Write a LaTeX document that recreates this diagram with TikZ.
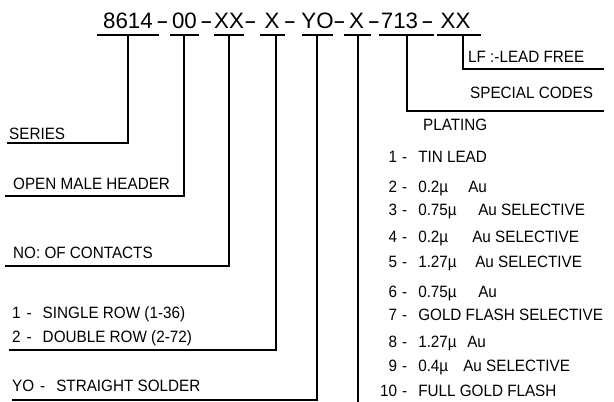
\documentclass[tikz,border=0pt]{standalone}
\usepackage{fontspec}
\usepackage{graphicx}
\setmainfont{Liberation Sans}
\newfontfamily\lblfont[FakeStretch=0.93]{Liberation Sans}
\begin{document}
\begin{tikzpicture}[x=1pt,y=-1pt,
  ln/.style={line width=1.3pt,line cap=rect},
  ttl/.style={inner sep=0pt,anchor=base,font=\fontsize{22.3}{24}\selectfont},
  lbl/.style={inner sep=0pt,anchor=base west,font=\lblfont\fontsize{16.4}{18}\selectfont},
]
\useasboundingbox (0,0) rectangle (614,402);
\newcommand{\dsh}{\hspace{6pt}-\hspace{11pt}}
\newcommand{\tdash}{\scalebox{1.7}[1]{-}}
\newcommand{\pl}[3]{\makebox[17pt][r]{#1}\hspace{5pt}-\hspace{11pt}\makebox[#2][l]{#3}}
% title segments
\node[ttl] (s1) at (128,28) {8614};
\node[ttl] (h1) at (162.5,28) {\tdash};
\node[ttl] (s2) at (184.5,28) {00};
\node[ttl] (h2) at (206.5,28) {\tdash};
\node[ttl] (s3) at (229,28) {XX};
\node[ttl] (h3) at (250.5,28) {\tdash};
\node[ttl] (s4) at (272,28) {X};
\node[ttl] (h4) at (290,28) {\tdash};
\node[ttl] (s5) at (317.5,28) {YO};
\node[ttl] (h5) at (339.5,28) {\tdash};
\node[ttl] (s6) at (356.5,28) {X};
\node[ttl] (h6) at (374,28) {\tdash};
\node[ttl] (s7) at (399.5,28) {713};
\node[ttl] (h7) at (427.5,28) {\tdash};
\node[ttl] (s8) at (455.5,28) {XX};
% underlines
\draw[ln] (98,35) -- (158,35);
\draw[ln] (171,35) -- (198,35);
\draw[ln] (215,35) -- (243,35);
\draw[ln] (261,35) -- (284,35);
\draw[ln] (303,35) -- (332,35);
\draw[ln] (345,35) -- (370,35);
\draw[ln] (380,35) -- (433,35);
\draw[ln] (438,35) -- (480,35);
% branch points
\coordinate (b1) at (128,35);
\coordinate (b2) at (184,35);
\coordinate (b3) at (229,35);
\coordinate (b4) at (276,35);
\coordinate (b5) at (317,35);
\coordinate (b6) at (358,35);
\coordinate (b7) at (407,35);
\coordinate (b8) at (463,35);
% line ends
\coordinate (e1) at (8,143);
\coordinate (e2) at (6,196);
\coordinate (e3) at (6,266);
\coordinate (e4) at (10,350);
\coordinate (e5) at (13,400);
\coordinate (e6) at (358,402);
\coordinate (e7) at (603,111);
\coordinate (e8) at (603,69);
\draw[ln] (b1) |- (e1);
\draw[ln] (b2) |- (e2);
\draw[ln] (b3) |- (e3);
\draw[ln] (b4) |- (e4);
\draw[ln] (b5) |- (e5);
\draw[ln,line cap=butt] (b6) -- (e6);
\draw[ln] (b7) |- (e7);
\draw[ln] (b8) |- (e8);
% left labels
\node[lbl] (series) at (9,139) {SERIES};
\node[lbl] (omh) at (13,189) {OPEN MALE HEADER};
\node[lbl] (noc) at (13,258.5) {NO: OF CONTACTS};
\node[lbl] (row1) at (12,318.5) {1\dsh SINGLE ROW (1-36)};
\node[lbl] (row2) at (12,342.5) {2\dsh DOUBLE ROW (2-72)};
\node[lbl] (yo) at (12,391.5) {YO\dsh STRAIGHT SOLDER};
% right labels
\node[lbl] (lf) at (468,62.5) {LF :-LEAD FREE};
\node[lbl] (sc) at (470,98.5) {SPECIAL CODES};
\node[lbl] (plt) at (423,130.5) {PLATING};
% plating list
\node[lbl] (p1) at (380,162.5) {\pl{1}{0pt}{}TIN LEAD};
\node[lbl] (p2) at (380,192.5) {\pl{2}{50pt}{0.2µ}Au};
\node[lbl] (p3) at (380,215.5) {\pl{3}{60pt}{0.75µ}Au SELECTIVE};
\node[lbl] (p4) at (380,242.5) {\pl{4}{54pt}{0.2µ}Au SELECTIVE};
\node[lbl] (p5) at (380,267.5) {\pl{5}{57pt}{1.27µ}Au SELECTIVE};
\node[lbl] (p6) at (380,297.5) {\pl{6}{60pt}{0.75µ}Au};
\node[lbl] (p7) at (380,320.5) {\pl{7}{0pt}{}GOLD FLASH SELECTIVE};
\node[lbl] (p8) at (380,347.5) {\pl{8}{49pt}{1.27µ}Au};
\node[lbl] (p9) at (380,371.5) {\pl{9}{45pt}{0.4µ}Au SELECTIVE};
\node[lbl] (p10) at (380,396.5) {\pl{10}{0pt}{}FULL GOLD FLASH};
\end{tikzpicture}
\end{document}
